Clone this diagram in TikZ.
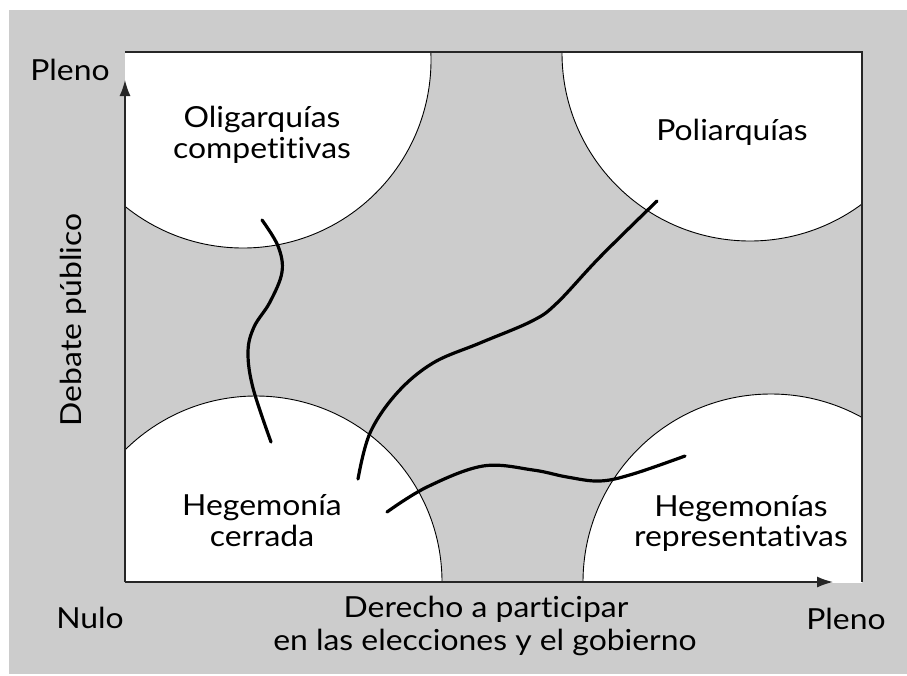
\documentclass[tikz,border=0pt]{standalone}
\usepackage{fontspec}
\setmainfont{Lato}[FakeStretch=1.1, RawFeature=-liga]
\usetikzlibrary{arrows.meta}
\definecolor{bggray}{RGB}{204,204,204}
\tikzset{
  lbl/.style={anchor=base, inner sep=0pt, font=\fontsize{29}{33}\selectfont},
  arcline/.style={draw=black, line width=0.9pt},
  framel/.style={draw=black!85, line width=1.5pt},
  axis/.style={draw=black!85, line width=1.5pt, -{Latex[length=16pt,width=11pt]}},
  path/.style={draw=black, line width=3.2pt, line cap=round}
}
\begin{document}
\begin{tikzpicture}[x=1pt,y=-1pt]
\useasboundingbox (0,0) rectangle (907,675);
\fill[white] (0,0) rectangle (907,675);
\fill[bggray] (9,10) rectangle (907,674);
% white quarter discs clipped to frame
\begin{scope}
  \clip (125,52) rectangle (862,582);
  \fill[white] (243,60) circle[radius=188];
  \fill[white] (750,53) circle[radius=188];
  \fill[white] (256,582) circle[radius=186];
  \fill[white] (771,582) circle[radius=188];
  \draw[arcline] (243,60) circle[radius=188];
  \draw[arcline] (750,53) circle[radius=188];
  \draw[arcline] (256,582) circle[radius=186];
  \draw[arcline] (771,582) circle[radius=188];
\end{scope}
% frame and axes
\coordinate (O) at (125,582);
\coordinate (TL) at (125,52);
\coordinate (TR) at (862,52);
\coordinate (BR) at (862,582);
\coordinate (ytip) at (125,80);
\coordinate (xtip) at (833,582);
\draw[framel] (TL) -- (TR) -- (BR);
\draw[axis] (O) -- (ytip);
\draw[axis] (O) -- (xtip);
% curves
\draw[path] plot[smooth, tension=0.6] coordinates {(262,220) (278,246) (282,272) (270,302) (254,327) (248,352) (253,388) (271,442)};
\draw[path] plot[smooth, tension=0.6] coordinates {(358,479) (370,433) (397,393) (433,363) (480,343) (532,321) (557,303) (600,257) (657,201)};
\draw[path] plot[smooth, tension=0.6] coordinates {(387,512) (427,487) (483,466) (533,470) (567,477) (600,481) (633,474) (685,456)};
% labels
\node[lbl] (pl1) at (70,80) {Pleno};
\node[lbl] (ol1) at (262,127) {Oligarquías};
\node[lbl] (ol2) at (262,158) {competitivas};
\node[lbl] (po) at (732,140) {Poliarquías};
\node[lbl] (hc1) at (262,515) {Hegemonía};
\node[lbl] (hc2) at (262,546) {cerrada};
\node[lbl] (hr1) at (741,516) {Hegemonías};
\node[lbl] (hr2) at (741,546) {representativas};
\node[lbl, rotate=90] (db) at (81,320) {Debate público};
\node[lbl] (nu) at (90,628) {Nulo};
\node[lbl] (pl2) at (846,629) {Pleno};
\node[lbl] (dx1) at (486,617) {Derecho a participar};
\node[lbl] (dx2) at (485,650) {en las elecciones y el gobierno};
\end{tikzpicture}
\end{document}
